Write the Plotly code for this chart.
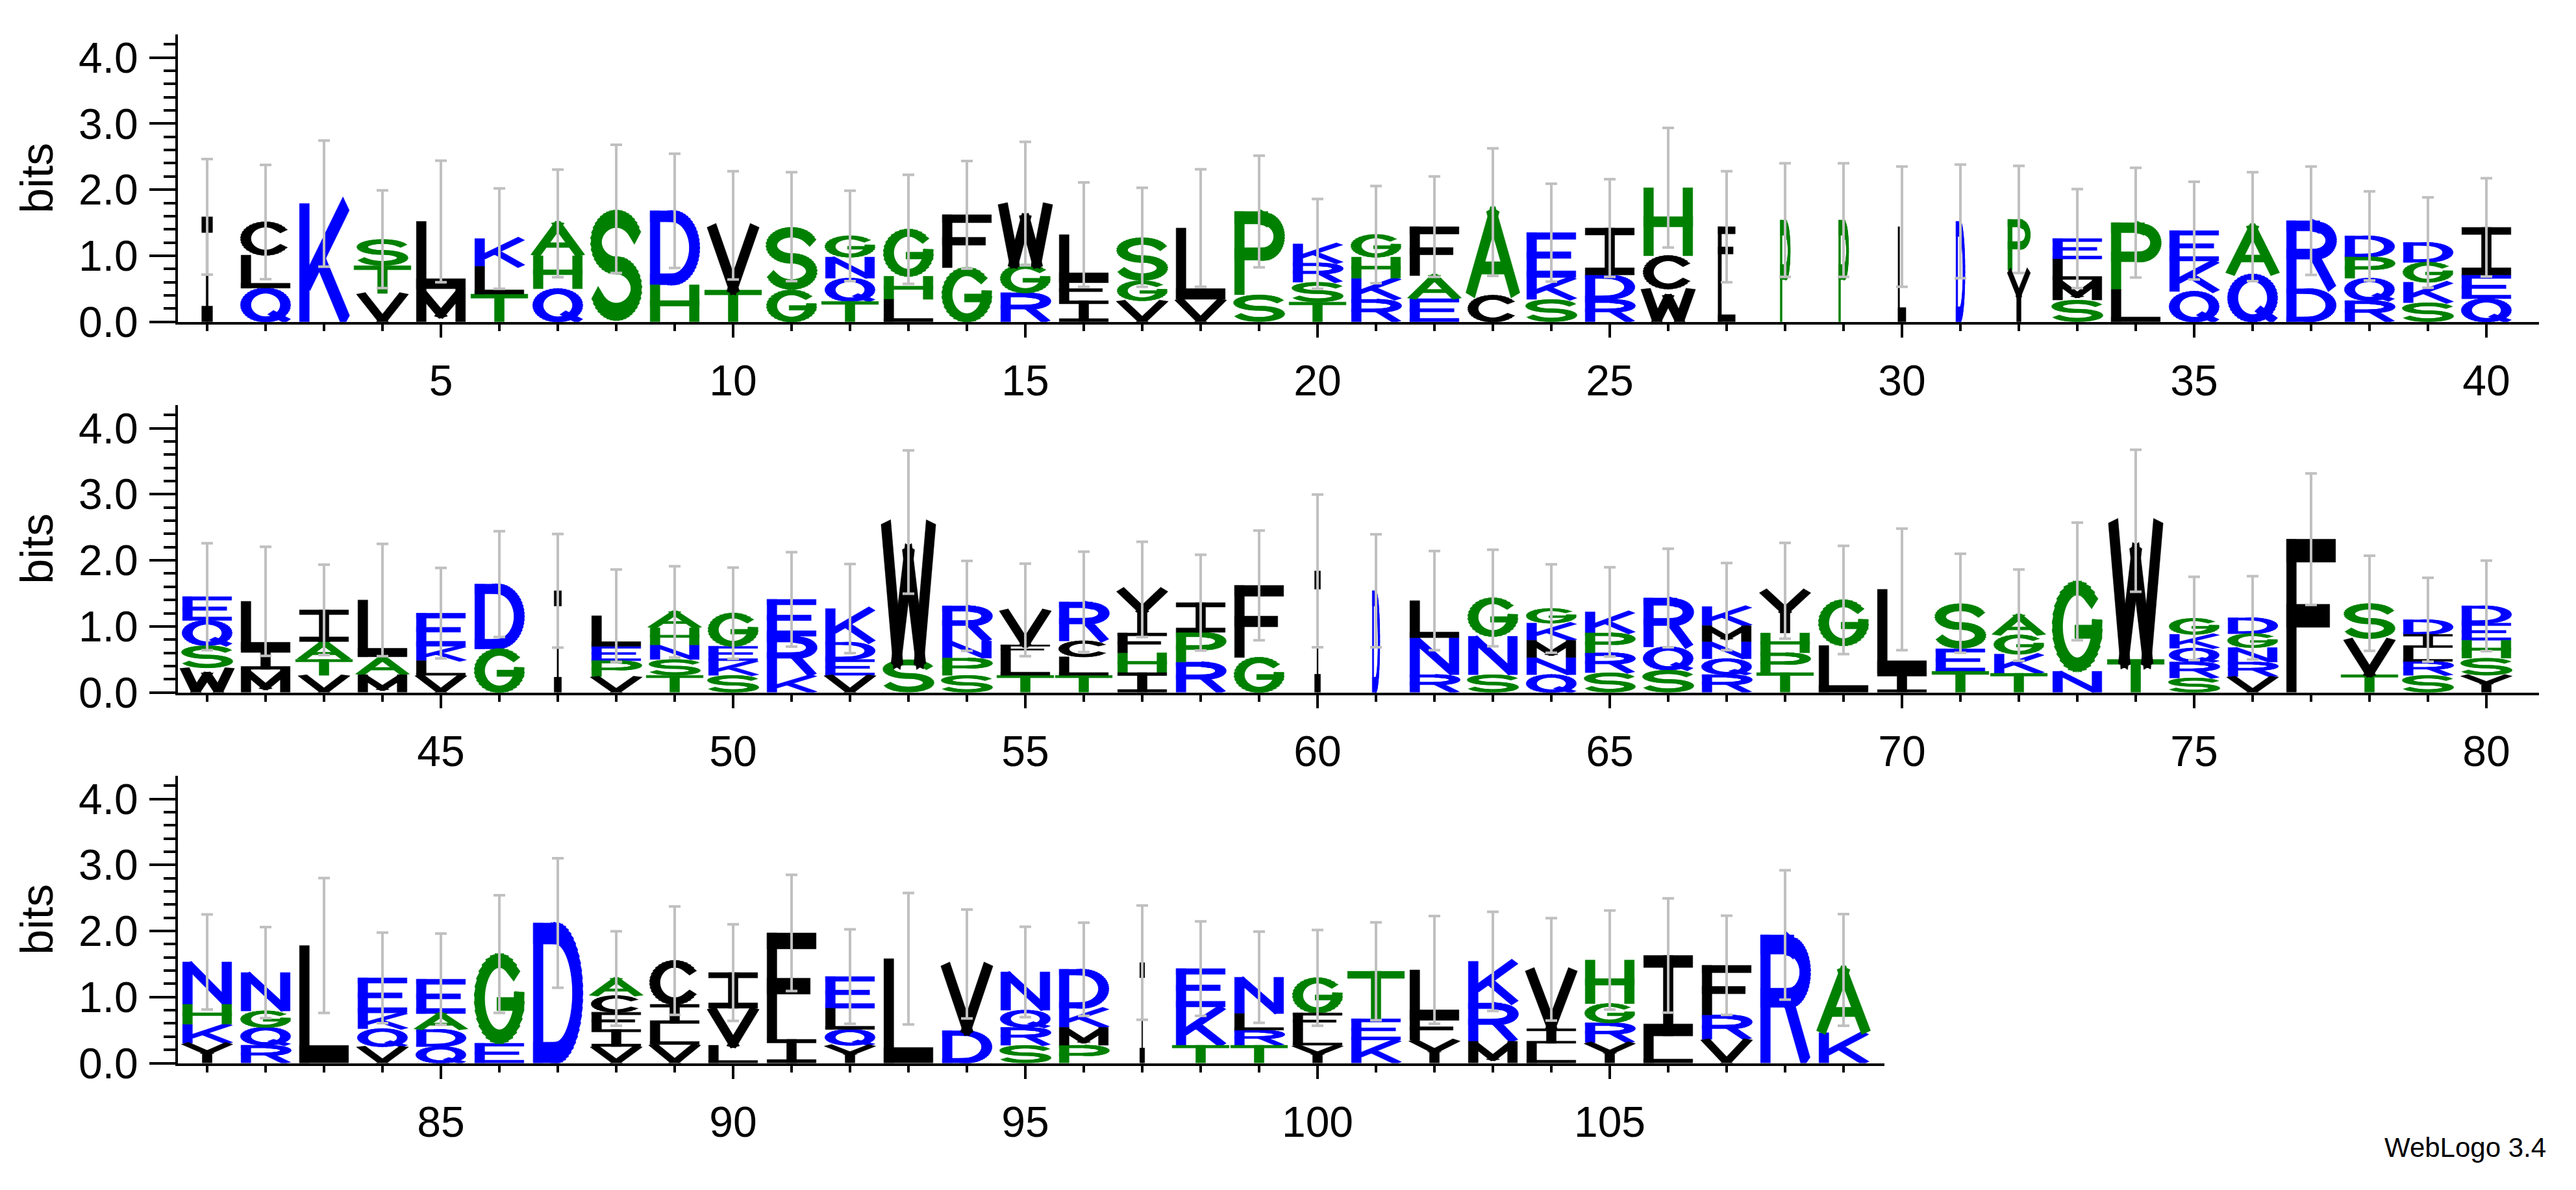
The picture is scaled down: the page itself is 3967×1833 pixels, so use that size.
import math
import plotly.graph_objects as go

# ---------------- data (bottom -> top per position) ----------------
positions = list(range(1, 110))
letters = [
 "I","QLC","K","VTS","ML","TLK","QHA","S","HD","TV",
 "GS","TQNG","LHG","GF","RGW","IFL","VGS","VL","SP","TSRK",
 "RKHG","EAF","CA","SKE","RDI","WCH","LF","P","P","L",
 "D","YP","SMLE","LP","QKE","QA","DR","RQPD","SKGD","QEI",
 "WSQE","MIL","VTAI","MAL","VLKE","GD","I","VPEL","TSNHA","SKEG",
 "KRE","VEDK","SW","SPNR","TLFV","TLCR","IHFY","RPI","GF","I",
 "D","RNL","SNG","QNMKG","SRPK","SQR","RQNMK","TPHY","LG","IL",
 "TES","TKGA","NG","TW","SRQKG","VRNGD","F","TVS","SRLID","YSHED",
 "YKHN","RQGN","L","VQKE","QDAE","EG","D","VIFCA","VLIC","LVI",
 "IF","YQLE","L","DV","SRQN","PMKD","I","TKE","TRLN","YLFG",
 "KET","YFL","MRK","LIV","YRGH","LI","VRF","R","KA",
]
heights = [
 [1.59],[0.51,0.50,0.50],[1.79],[0.43,0.42,0.40],[0.50,1.02],[0.42,0.42,0.42],[0.50,0.50,0.49],[1.71],[0.56,1.12],[0.48,0.98],
 [0.48,0.96],[0.31,0.35,0.32,0.32],[0.34,0.35,0.71],[0.82,0.80],[0.44,0.43,0.92],[0.32,0.32,0.68],[0.32,0.30,0.66],[0.34,1.08],[0.41,1.26],[0.30,0.30,0.29,0.29],
 [0.34,0.32,0.32,0.34],[0.35,0.35,0.74],[0.40,1.26],[0.34,0.33,0.68],[0.34,0.37,0.71],[0.50,0.50,1.03],[0.72,0.72],[1.54],[1.54],[1.44],
 [1.52],[0.78,0.77],[0.33,0.31,0.31,0.31],[0.49,1.01],[0.46,0.46,0.46],[0.72,0.72],[0.50,1.03],[0.32,0.34,0.32,0.32],[0.29,0.31,0.30,0.30],[0.35,0.36,0.72],
 [0.37,0.34,0.38,0.36],[0.35,0.30,0.73],[0.26,0.24,0.27,0.48],[0.27,0.27,0.86],[0.26,0.22,0.22,0.50],[0.66,0.98],[1.54],[0.24,0.24,0.22,0.46],[0.26,0.24,0.22,0.26,0.24],[0.26,0.22,0.22,0.50],
 [0.26,0.59,0.56],[0.26,0.24,0.26,0.51],[0.50,2.08],[0.26,0.26,0.26,0.53],[0.26,0.32,0.14,0.53],[0.26,0.28,0.24,0.59],[0.30,0.30,0.30,0.66],[0.46,0.45,0.45],[0.53,1.09],[1.84],
 [1.54],[0.27,0.56,0.56],[0.27,0.58,0.58],[0.27,0.26,0.26,0.26,0.22],[0.30,0.30,0.30,0.32],[0.34,0.35,0.74],[0.27,0.24,0.26,0.24,0.29],[0.30,0.30,0.30,0.64],[0.71,0.69],[0.29,1.27],
 [0.32,0.34,0.69],[0.29,0.29,0.29,0.30],[0.32,1.36],[0.50,2.10],[0.22,0.24,0.21,0.21,0.24],[0.24,0.22,0.22,0.21,0.24],[2.32],[0.27,0.54,0.54],[0.26,0.21,0.21,0.20,0.22],[0.26,0.26,0.27,0.26,0.26],
 [0.30,0.29,0.30,0.64],[0.27,0.27,0.25,0.58],[1.78],[0.25,0.27,0.24,0.53],[0.25,0.26,0.24,0.52],[0.30,1.35],[2.12],[0.25,0.26,0.26,0.25,0.26],[0.28,0.32,0.29,0.66],[0.27,0.56,0.54],
 [0.36,1.61],[0.27,0.24,0.32,0.48],[1.58],[0.49,1.01],[0.27,0.27,0.26,0.58],[0.27,0.27,0.29,0.59],[1.52],[0.27,0.58,0.58],[0.27,0.23,0.25,0.55],[0.27,0.24,0.25,0.53],
 [0.35,0.32,0.72],[0.35,0.35,0.71],[0.33,0.58,0.63],[0.30,0.22,0.90],[0.31,0.30,0.29,0.66],[0.41,1.22],[0.36,0.37,0.75],[1.94],[0.46,0.95],
]
errors = [
 0.875,0.865,0.955,0.74,0.92,0.76,0.815,0.97,0.865,0.82,
 0.825,0.685,0.825,0.815,0.935,0.79,0.75,0.89,0.845,0.68,
 0.735,0.76,0.965,0.74,0.74,0.905,0.84,0.86,0.86,0.91,
 0.86,0.81,0.75,0.83,0.74,0.825,0.82,0.675,0.685,0.745,
 0.81,0.825,0.685,0.85,0.685,0.80,0.86,0.70,0.69,0.69,
 0.715,0.675,1.085,0.68,0.70,0.76,0.72,0.725,0.83,1.155,
 0.855,0.75,0.73,0.67,0.675,0.745,0.66,0.725,0.82,0.92,
 0.75,0.69,0.89,1.075,0.63,0.63,0.995,0.72,0.635,0.685,
 0.72,0.69,1.02,0.685,0.69,0.89,0.98,0.715,0.82,0.73,
 0.88,0.715,0.995,0.825,0.685,0.705,0.865,0.715,0.69,0.725,
 0.74,0.815,0.75,0.775,0.75,0.865,0.75,0.98,0.845,
]
narrow = {1: 0.22, 27: 0.35, 28: 0.2, 29: 0.2, 30: 0.16, 31: 0.18, 32: 0.45,
          47: 0.15, 60: 0.12, 61: 0.15, 97: 0.1}
row_ranges = [(1, 40), (41, 80), (81, 109)]
colors = {"blue": "#0000ff", "green": "#008000", "black": "#000000"}
letter_color = {}
for ch in "DEKRNQ":
    letter_color[ch] = "blue"
for ch in "STGHAP":
    letter_color[ch] = "green"
for ch in "CILMFVWY":
    letter_color[ch] = "black"

# ---------------- glyphs (unit box, stroke centerlines) ----------------
HX, HY = 0.1, 0.075
a, b, lo, hi = HX, 1 - HX, HY, 1 - HY


def arc(cx, cy, rx, ry, t0, t1, n=28):
    return [(cx + rx * math.cos(math.radians(t0 + (t1 - t0) * i / n)),
             cy + ry * math.sin(math.radians(t0 + (t1 - t0) * i / n))) for i in range(n + 1)]


RX, RY = 0.5 - HX, 0.5 - HY
GLYPHS = {
    "A": [([(0.04, 0.0), (0.5, 0.97), (0.96, 0.0)], False), ([(0.27, 0.33), (0.73, 0.33)], False)],
    "C": [(arc(0.5, 0.5, RX, RY, 40, 320), True)],
    "D": [([(a, lo), (a, hi)], True),
          ([(a, hi), (0.45, hi)] + arc(0.45, 0.5, b - 0.45, RY, 90, -90)[1:-1] + [(0.45, lo), (a, lo)], True)],
    "E": [([(a, lo), (a, hi)], True), ([(a, hi), (b, hi)], True), ([(a, 0.5), (0.8, 0.5)], True), ([(a, lo), (b, lo)], True)],
    "F": [([(a, lo), (a, hi)], True), ([(a, hi), (b, hi)], True), ([(a, 0.5), (0.78, 0.5)], True)],
    "G": [(arc(0.5, 0.5, RX, RY, 45, 360) + [(b, 0.44), (0.55, 0.44)], True)],
    "H": [([(a, lo), (a, hi)], True), ([(b, lo), (b, hi)], True), ([(a, 0.5), (b, 0.5)], True)],
    "I": [([(0.5, lo), (0.5, hi)], True), ([(a, hi), (b, hi)], True), ([(a, lo), (b, lo)], True)],
    "K": [([(a, lo), (a, hi)], True), ([(0.95, 1.0), (a + 0.05, 0.32)], False), ([(0.4, 0.55), (0.95, 0.0)], False)],
    "L": [([(a, lo), (a, hi)], True), ([(a, lo), (b, lo)], True)],
    "M": [([(a, lo), (a, hi)], True), ([(b, lo), (b, hi)], True), ([(a, hi), (0.5, 0.2), (b, hi)], False)],
    "N": [([(a, lo), (a, hi)], True), ([(b, lo), (b, hi)], True), ([(a, 0.97), (b, 0.03)], False)],
    "P": [([(a, lo), (a, hi)], True),
          ([(a, hi), (0.58, hi)] + arc(0.58, 0.7, b - 0.58, 0.21, 90, -90)[1:-1] + [(0.58, 0.49), (a, 0.49)], True)],
    "Q": [(arc(0.5, 0.5, RX, RY, 0, 360, 40), False), ([(0.6, 0.28), (0.95, 0.02)], False)],
    "R": [([(a, lo), (a, hi)], True),
          ([(a, hi), (0.58, hi)] + arc(0.58, 0.71, b - 0.58, 0.2, 90, -90)[1:-1] + [(0.58, 0.51), (a, 0.51)], True),
          ([(0.55, 0.51), (0.93, 0.0)], False)],
    "S": [(arc(0.5, 0.705, RX, 0.205, 25, 270) + arc(0.5, 0.295, RX, 0.205, 90, -155)[1:], True)],
    "T": [([(0.02, hi), (0.98, hi)], True), ([(0.5, lo), (0.5, hi)], True)],
    "V": [([(0.06, 1.0), (0.5, 0.02), (0.94, 1.0)], False)],
    "W": [([(0.04, 1.0), (0.27, 0.02), (0.5, 0.75), (0.73, 0.02), (0.96, 1.0)], False)],
    "Y": [([(0.05, 1.0), (0.5, 0.5), (0.95, 1.0)], False), ([(0.5, lo), (0.5, 0.5)], True)],
}


def stroke_polys(pts, capped):
    polys = []
    n = len(pts)
    for i in range(n - 1):
        (x0, y0), (x1, y1) = pts[i], pts[i + 1]
        dx, dy = x1 - x0, y1 - y0
        L = math.hypot(dx, dy)
        if L == 0:
            continue
        ux, uy = dx / L, dy / L
        ox, oy = -uy * HX, ux * HY
        ex, ey = ux * HX, uy * HY
        c0 = capped or i > 0
        c1 = capped or i < n - 2
        sx0, sy0 = (x0 - ex, y0 - ey) if c0 else (x0, y0)
        sx1, sy1 = (x1 + ex, y1 + ey) if c1 else (x1, y1)
        polys.append([(sx0 + ox, sy0 + oy), (sx1 + ox, sy1 + oy), (sx1 - ox, sy1 - oy), (sx0 - ox, sy0 - oy)])
    return polys


# ---------------- figure ----------------
W, H = 3967, 1833
fig = go.Figure()
row_y = [(45, 497), (628, 1080), (1211, 1663)]
x_left = 266
pos_px = 90.0
right_pad = [0.9, 0.9, 0.7]

for r, (p0, p1) in enumerate(row_ranges):
    xa = "x" if r == 0 else f"x{r + 1}"
    ya = "y" if r == 0 else f"y{r + 1}"
    buckets = {k: ([], []) for k in colors}
    for p in range(p0, p1 + 1):
        i = p - 1
        wf = narrow.get(p, 1.0) * 0.84
        base = 0.0
        for ch, hgt in zip(letters[i], heights[i]):
            xs, ys = buckets[letter_color[ch]]
            for pts, capped in GLYPHS[ch]:
                for poly in stroke_polys(pts, capped):
                    for (u, v) in poly + [poly[0]]:
                        xs.append(p + (u - 0.5) * wf)
                        ys.append(base + v * hgt)
                    xs.append(None)
                    ys.append(None)
            base += hgt
    for k, (xs, ys) in buckets.items():
        fig.add_trace(go.Scatter(x=xs, y=ys, mode="lines", fill="toself", fillcolor=colors[k],
                                 line=dict(color=colors[k], width=0.5), hoverinfo="skip",
                                 showlegend=False, xaxis=xa, yaxis=ya))
    idx = list(range(p0 - 1, p1))
    fig.add_trace(go.Scatter(
        x=[positions[i] for i in idx], y=[sum(heights[i]) for i in idx], mode="markers",
        marker=dict(size=1, opacity=0),
        error_y=dict(type="data", array=[errors[i] for i in idx], color="#c0c0c0", thickness=4, width=9),
        showlegend=False, hoverinfo="skip", xaxis=xa, yaxis=ya))

font = dict(family="Liberation Sans, Arial, sans-serif", color="black")
layout = dict(width=W, height=H, margin=dict(l=0, r=0, t=0, b=0), plot_bgcolor="white",
              paper_bgcolor="white", font=dict(font, size=64))
for r, (p0, p1) in enumerate(row_ranges):
    sfx = "" if r == 0 else str(r + 1)
    top_px, bot_px = row_y[r]
    right_val = p1 + right_pad[r]
    xr = x_left + (right_val - (p0 - 0.5)) * pos_px
    layout["xaxis" + sfx] = dict(
        domain=[x_left / W, xr / W], range=[p0 - 0.5, right_val], anchor="y" + sfx,
        showline=True, linecolor="black", linewidth=4, showgrid=False, zeroline=False,
        ticks="outside", ticklen=20, tickwidth=4, tickcolor="black", tick0=0, dtick=5,
        minor=dict(ticks="outside", ticklen=10, tickwidth=4, tickcolor="black", dtick=1, tick0=0, showgrid=False),
        tickfont=dict(font, size=66), ticklabelstandoff=10)
    layout["yaxis" + sfx] = dict(
        domain=[1 - bot_px / H, 1 - top_px / H], range=[0, 4.35], anchor="x" + sfx,
        showline=True, linecolor="black", linewidth=4, showgrid=False, zeroline=False,
        ticks="outside", ticklen=40, tickwidth=4, tickcolor="black", tick0=0, dtick=1, tickformat=".1f",
        minor=dict(ticks="outside", ticklen=18, tickwidth=4, tickcolor="black", dtick=0.2, showgrid=False),
        tickfont=dict(font, size=66), ticklabelstandoff=4,
        title=dict(text="bits", font=dict(font, size=70), standoff=18))
fig.update_layout(**layout)
fig.add_annotation(text="WebLogo 3.4", x=3915 / W, y=1 - 1822 / H, xref="paper", yref="paper",
                   xanchor="right", yanchor="bottom", showarrow=False, font=dict(font, size=42))
fig.write_html("out.html")
